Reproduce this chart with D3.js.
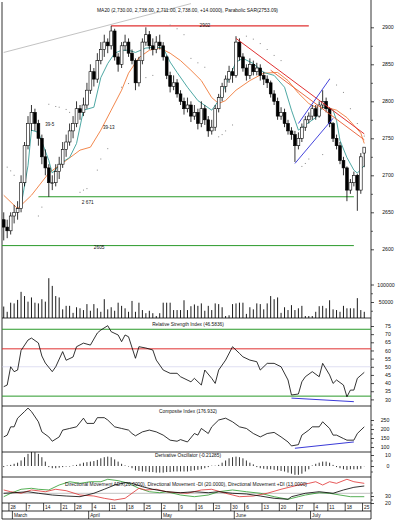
<!DOCTYPE html>
<html><head><meta charset="utf-8">
<script src="https://cdn.jsdelivr.net/npm/d3@7/dist/d3.min.js"></script>
<style>
html,body{margin:0;padding:0;background:#fff;}
svg{display:block;}
text{font-family:"Liberation Sans",Arial,sans-serif;fill:#111;}
</style></head><body>
<svg id="chart" width="400" height="523"></svg>
<script>
// ---------------- DATA ----------------
const dates = ["2005-02-24","2005-02-25","2005-02-28",
"2005-03-01","2005-03-02","2005-03-03","2005-03-04","2005-03-07","2005-03-08","2005-03-09","2005-03-10","2005-03-11","2005-03-14","2005-03-15","2005-03-16","2005-03-17","2005-03-18","2005-03-21","2005-03-22","2005-03-23","2005-03-24","2005-03-28","2005-03-29","2005-03-30","2005-03-31",
"2005-04-01","2005-04-04","2005-04-05","2005-04-06","2005-04-07","2005-04-08","2005-04-11","2005-04-12","2005-04-13","2005-04-14","2005-04-15","2005-04-18","2005-04-19","2005-04-20","2005-04-21","2005-04-22","2005-04-25","2005-04-26","2005-04-27","2005-04-28","2005-04-29",
"2005-05-02","2005-05-03","2005-05-04","2005-05-05","2005-05-06","2005-05-09","2005-05-10","2005-05-11","2005-05-12","2005-05-13","2005-05-16","2005-05-17","2005-05-18","2005-05-19","2005-05-20","2005-05-23","2005-05-24","2005-05-25","2005-05-26","2005-05-27","2005-05-31",
"2005-06-01","2005-06-02","2005-06-03","2005-06-06","2005-06-07","2005-06-08","2005-06-09","2005-06-10","2005-06-13","2005-06-14","2005-06-15","2005-06-16","2005-06-17","2005-06-20","2005-06-21","2005-06-22","2005-06-23","2005-06-24","2005-06-27","2005-06-28","2005-06-29","2005-06-30",
"2005-07-01","2005-07-05","2005-07-06","2005-07-07","2005-07-08","2005-07-11","2005-07-12","2005-07-13","2005-07-14","2005-07-15","2005-07-18","2005-07-19","2005-07-20","2005-07-21","2005-07-22","2005-07-25"];

const open  = [2640,2630,2625,2645,2650,2655,2690,2740,2770,2785,2770,2750,2725,2710,2690,2690,2705,2715,2735,2745,2760,2770,2790,2785,2795,2815,2840,2830,2855,2870,2880,2875,2895,2860,2850,2875,2880,2865,2855,2825,2855,2880,2890,2875,2870,2880,2875,2860,2835,2820,2825,2810,2800,2790,2795,2780,2785,2770,2790,2775,2760,2765,2790,2805,2820,2830,2840,2835,2880,2860,2845,2835,2850,2840,2845,2835,2830,2825,2810,2800,2780,2785,2770,2760,2755,2740,2750,2765,2775,2780,2790,2780,2795,2800,2790,2770,2750,2740,2720,2710,2680,2690,2700,2680,2730];
const high  = [2650,2640,2650,2660,2665,2700,2745,2780,2795,2790,2775,2755,2735,2715,2700,2715,2725,2745,2755,2770,2780,2800,2795,2805,2825,2850,2845,2865,2880,2890,2885,2902,2898,2865,2880,2890,2885,2870,2858,2860,2885,2900,2895,2885,2888,2890,2880,2862,2840,2835,2830,2815,2805,2805,2800,2795,2790,2800,2795,2780,2775,2795,2810,2825,2835,2848,2845,2888,2885,2865,2850,2858,2855,2852,2850,2840,2835,2828,2815,2805,2792,2790,2775,2765,2760,2758,2770,2780,2785,2795,2795,2800,2815,2805,2792,2772,2755,2745,2725,2712,2695,2705,2702,2730,2738];
const low   = [2612,2615,2620,2635,2640,2650,2685,2735,2760,2760,2740,2715,2700,2671,2680,2685,2695,2710,2725,2740,2750,2765,2775,2780,2790,2810,2820,2825,2850,2860,2865,2870,2855,2840,2845,2868,2860,2850,2815,2820,2850,2875,2870,2862,2865,2870,2855,2830,2812,2815,2805,2795,2782,2785,2772,2775,2762,2765,2768,2752,2755,2760,2785,2800,2812,2825,2825,2832,2855,2840,2828,2830,2835,2835,2828,2822,2818,2805,2795,2775,2775,2765,2755,2748,2718,2735,2745,2760,2770,2775,2775,2778,2790,2785,2765,2745,2735,2715,2700,2665,2675,2685,2652,2675,2711];
const close = [2630,2625,2645,2650,2655,2690,2740,2770,2785,2770,2750,2725,2710,2690,2690,2705,2715,2735,2745,2760,2770,2790,2785,2795,2815,2840,2830,2855,2870,2880,2875,2895,2860,2850,2875,2880,2865,2855,2825,2855,2880,2890,2875,2870,2880,2875,2860,2835,2820,2825,2810,2800,2790,2795,2780,2785,2770,2790,2775,2760,2765,2790,2805,2820,2830,2840,2835,2880,2860,2845,2835,2850,2840,2845,2835,2830,2825,2810,2800,2780,2785,2770,2760,2755,2740,2750,2765,2775,2780,2790,2780,2795,2800,2790,2770,2750,2740,2720,2710,2680,2690,2700,2680,2725,2738];
const volume = [37000,22000,48000,46000,56000,79000,67000,51000,63000,48000,46000,58000,51000,118000,96000,67000,63000,29000,39000,39000,19000,35000,32000,27000,44000,25000,44000,32000,22000,58000,29000,35000,25000,48000,39000,32000,22000,53000,22000,48000,27000,18000,25000,18000,10000,18000,48000,48000,48000,27000,27000,27000,55000,27000,38000,43000,39000,46000,25000,39000,27000,46000,44000,35000,10000,12000,44000,46000,48000,48000,16000,35000,29000,46000,44000,29000,46000,67000,58000,63000,19000,35000,27000,41000,27000,32000,39000,10000,10000,10000,22000,38000,39000,32000,55000,29000,27000,22000,39000,32000,32000,32000,61000,27000,22000];

// moving averages: day index / value
const maFastDay = [5,7,8,10,13,14,17,19,21,23,26,28,30,32,34,36,38,41,44,46,48,50,53,56,60,62,65,67,69,72,75,78,81,83,85,87,90,92,95,96,97,99,101,102,104];
const maFastVal = [2659,2713,2761,2758,2720,2703,2718,2724,2743,2788,2792,2832,2851,2865,2869,2869,2866,2872,2873,2872,2853,2839,2819,2801,2788,2801,2832,2853,2858,2851,2839,2835,2819,2788,2761,2768,2778,2792,2788,2774,2747,2724,2707,2703,2713];
const maSlowDay = [0,4,8,13,18,22,25,28,31,34,36,39,42,45,48,51,54,57,60,62,64,67,71,75,79,82,85,88,90,93,96,99,103,104];
const maSlowVal = [2673,2655,2673,2703,2720,2734,2738,2761,2788,2815,2838,2859,2869,2872,2865,2855,2842,2828,2805,2797,2801,2815,2828,2838,2839,2828,2811,2797,2792,2792,2788,2778,2757,2743];
// parabolic SAR dots
const sarDay = [1,2,3,10,11,13,15,16,18,19,22,23,24,27,28,30,34,36,41,43,48,50,52,54,56,58,62,63,64,66,70,72,74,76,78,80,86,87,88,92,94,96,98,100,102,104];
const sarVal = [2711,2706,2700,2645,2657,2796,2793,2792,2789,2785,2677,2680,2682,2707,2722,2736,2819,2824,2832,2835,2903,2898,2890,2858,2852,2846,2752,2755,2760,2768,2888,2884,2878,2870,2862,2855,2712,2716,2722,2728,2830,2822,2812,2790,2770,2753];

// indicator panels
const rsiDay = [0,1,2,3,4,5,7,8,10,11,12,14,15,17,18,20,21,23,25,27,28,30,31,33,34,35,36,38,39,41,43,44,46,48,50,51,54,55,57,58,60,61,62,64,66,68,69,71,73,74,76,78,80,82,83,85,86,87,89,91,92,94,95,96,98,99,100,101,102,104];
const rsiVal = [37.8,38.8,50,47,48,60,66.4,67.6,64.6,56.6,52.3,47,50,59.3,54,56,62.3,64.5,63.3,70.7,72.5,75.2,71.5,69.5,65.4,69.5,68.4,55.2,62.3,61.5,60.3,54.1,48,46,46,43.9,40.8,42.9,38.8,48,42.9,39.8,48,54.1,62.3,58.2,56.1,54.1,53.1,48,52.1,52.1,50,41.9,32.7,33.3,40.8,43.9,47,43.9,52.1,45,39.8,41.9,38.8,31.6,35.7,35.7,42.9,46.6];
const ciDay = [0,1,2,3,4,6,7,8,10,11,13,14,16,17,19,21,23,24,26,27,29,30,32,34,36,37,38,40,42,44,46,48,50,51,53,55,56,57,59,60,62,64,66,68,70,72,74,76,78,80,82,83,85,86,88,89,91,92,94,95,96,98,99,101,102,104];
const ciVal = [156,166,212,212,260,297,316,297,240,184,156,132,156,194,203,212,260,231,231,263,263,250,212,203,194,175,162,184,194,184,166,138,132,141,128,175,166,203,175,212,250,260,240,212,203,175,156,175,181,156,128,106,113,166,194,212,212,240,203,166,166,147,138,138,175,212];
const doVal = [-1,0.5,1,2,3,5,8,11,13,12.5,11,8,4,-1,-2,-2,-1.5,-1,-0.5,-0.5,0.5,1,2,3,3.5,4,4.5,5.5,7,8,8.5,8,6,4,2,0.5,-0.5,-2,-4,-4.5,-5,-5,-5.5,-5.5,-6,-6,-6,-5.5,-5.5,-5,-5,-5,-5,-5,-4.5,-4,-3.5,-3,-2,-1,0.3,0.3,1,3,5,7,8,8.5,8,7,5,3,1.5,-1,-2,-2.5,-3,-3,-3.5,-4,-4.5,-5,-6,-7,-8,-8,-7,-5,-3,0.5,2,3,4,4,3,1,-1,-2,-3,-3.5,-3,-3,-3,-2.5,-0.2];
const adxDay = [0,3,7,10,14,18,22,26,29,32,35,37,40,43,47,51,55,59,62,66,70,74,78,82,83,87,91,95,98,101,104];
const adxVal = [33.9,34.7,36.1,33.9,31.4,30,29,33.9,39.6,45.7,49,48.1,43.3,39.6,36.1,34.7,36.1,34.7,36.1,33.9,32.9,30,26.7,25.3,29,33.9,36.1,33.9,38.6,42.4,44.3];
const mdiDay = [0,2,5,8,12,15,18,22,26,29,32,35,37,39,41,44,47,50,53,57,60,64,68,72,76,80,83,85,88,90,92,94,96,99,101,104];
const mdiVal = [38.6,36.1,33.9,38.6,36.1,39.6,37.6,31.4,30,26.7,24.3,26.7,33.9,41,38.6,39.6,36.1,34.7,33.9,38.6,39.6,33.9,29,30,33.9,39.6,43.3,45.7,48.1,50.4,45.7,50.4,48.1,53.9,50.4,48.1];
const pdiDay = [0,2,5,8,10,13,16,19,22,25,28,30,33,36,37,39,42,45,47,51,55,59,62,66,70,74,78,82,85,87,91,94,97,100,104];
const pdiVal = [29,33.9,39.6,41,39.6,38.6,45.7,50.4,48.1,50.4,50.4,53.9,51.9,48.1,45.7,41,36.1,34.7,36.1,31.4,29,31.4,36.1,38.6,36.1,33.9,29,25.3,29,31.4,34.7,33.9,31.4,29,29];

// tick labels
const priceTicks = [2600,2650,2700,2750,2800,2850,2900];
const volTicks = [50000,100000];
const rsiTicks = [30,35,40,45,50,55,60,65,70,75];
const ciTicks = [100,150,200,250];
const doTicks = [0,10];
const dmiTicks = [20,30];
const weekTickDates = ["2005-02-28","2005-03-07","2005-03-14","2005-03-21","2005-03-28","2005-04-04","2005-04-11","2005-04-18","2005-04-25","2005-05-02","2005-05-09","2005-05-16","2005-05-23","2005-05-31","2005-06-06","2005-06-13","2005-06-20","2005-06-27","2005-07-05","2005-07-11","2005-07-18","2005-07-25"];
const weekTickLabels = ["28","7","14","21","28","4","11","18","25","2","9","16","23","30","6","13","20","27","4","11","18","25"];
const monthTickDates = ["2005-03-01","2005-04-01","2005-05-02","2005-06-01","2005-07-01"];
const monthTickLabels = ["March","April","May","June","July"];

// annotations: [dayIndex, value]
const greyTrend = [[0,2866],[54,2932]];
const redTop = [[31,2902],[88,2902]];
const redDown1 = [[67,2885],[104,2756]];
const redDown2 = [[77,2842],[104,2748]];
const blueLow = [[84,2716],[95,2777]];
const blueHigh = [[85,2770],[94,2830]];
const support1 = [[10,2671],[101,2671]];
const support2 = [[-0.5,2605],[101,2605]];
const rsiDiv = [[83,30.8],[101,28.6]];
const ciDiv = [[84,93],[101,128]];
const rsiLevels = [73,61,32];
const rsiMid = 50;

const titleMain = "MA20 (2,730.00, 2,738.00, 2,711.00, 2,738.00, +14.0000), Parabolic SAR(2753.09)";
const titleRsi = "Relative Strength Index (46.5836)";
const titleCi = "Composite Index (176.932)";
const titleDo = "Derivative Oscillator (-0.21285)";
const titleDmi = "Directional Movement ADX(20.0000), Directional Movement -DI (20.0000), Directional Movement +DI (13.0000)";

// ---------------- DRAW ----------------
const svg = d3.select("#chart");
const L = 2, R = 371, PR = 366;
const n = dates.length;
const x = d3.scaleBand().domain(dates).range([L, PR]);
const step = x.step();
const cx = d => x(d) + step / 2;
const xi = i => L + (i + 0.5) * step;

const panels = {
  price: [2, 318], rsi: [318, 406], ci: [406, 452], dosc: [452, 477], dmi: [477, 503]
};
const yP = d3.scaleLinear().domain([2600, 2900]).range([249.3, 27.3]);
const yV = d3.scaleLinear().domain([0, 100000]).range([319.5, 284.5]);
const yR = d3.scaleLinear().domain([30, 75]).range([399.4, 326]);
const yC = d3.scaleLinear().domain([100, 250]).range([447, 420]);
const yD = d3.scaleLinear().domain([0, 10]).range([466, 455]);
const yM = d3.scaleLinear().domain([20, 30]).range([503, 496]);

const defs = svg.append("defs");
Object.entries(panels).forEach(([k, [t, b]]) => {
  defs.append("clipPath").attr("id", "clip-" + k).append("rect")
    .attr("x", L).attr("y", t).attr("width", R - L).attr("height", b - t);
});
const layer = k => svg.append("g").attr("clip-path", `url(#clip-${k})`);

// frame
const frame = svg.append("g").attr("stroke", "#000").attr("stroke-width", 0.8).attr("fill", "none");
frame.append("line").attr("x1", L).attr("x2", L).attr("y1", 2).attr("y2", 519);
frame.append("line").attr("x1", R).attr("x2", R).attr("y1", 0).attr("y2", 519);
[318, 406, 452, 477, 503, 511, 519].forEach(yy =>
  frame.append("line").attr("x1", L).attr("x2", R).attr("y1", yy).attr("y2", yy));

// ---- price panel
const gp = layer("price");
const segLine = (g, pts, sx, sy, col, w) => g.append("line")
  .attr("x1", sx(pts[0][0])).attr("y1", sy(pts[0][1]))
  .attr("x2", sx(pts[1][0])).attr("y2", sy(pts[1][1]))
  .attr("stroke", col).attr("stroke-width", w);

segLine(gp, greyTrend, xi, yP, "#a8a8a8", 0.7);
segLine(gp, support1, xi, yP, "#2a9a2a", 1);
segLine(gp, support2, xi, yP, "#2a9a2a", 1);
segLine(gp, redTop, xi, yP, "#e03030", 1.2);

// volume
gp.append("g").selectAll("line").data(dates).join("line")
  .attr("x1", d => cx(d)).attr("x2", d => cx(d))
  .attr("y1", yV(0)).attr("y2", (d, i) => yV(volume[i]))
  .attr("stroke", "#000").attr("stroke-width", 0.9);

// SAR
gp.append("g").selectAll("rect").data(sarDay).join("rect")
  .attr("x", (d) => xi(d) - 0.5).attr("y", (d, i) => yP(sarVal[i]) - 0.5)
  .attr("width", 1).attr("height", 1).attr("fill", "#8a8a8a");

// moving averages
const lineGen = (sy) => d3.line().x(d => xi(d[0])).y(d => sy(d[1]));
gp.append("path").datum(maSlowDay.map((d, i) => [d, maSlowVal[i]]))
  .attr("d", lineGen(yP)).attr("fill", "none").attr("stroke", "#f07a3a").attr("stroke-width", 0.9);
gp.append("path").datum(maFastDay.map((d, i) => [d, maFastVal[i]]))
  .attr("d", lineGen(yP)).attr("fill", "none").attr("stroke", "#3a9e9a").attr("stroke-width", 0.9);

// candles
const cg = gp.append("g");
cg.selectAll("line").data(dates).join("line")
  .attr("x1", d => cx(d)).attr("x2", d => cx(d))
  .attr("y1", (d, i) => yP(high[i])).attr("y2", (d, i) => yP(low[i]))
  .attr("stroke", "#000").attr("stroke-width", 0.8);
const bw = 2.8;
cg.selectAll("rect").data(dates).join("rect")
  .attr("x", d => cx(d) - bw / 2).attr("width", bw)
  .attr("y", (d, i) => yP(Math.max(open[i], close[i])))
  .attr("height", (d, i) => Math.max(0.7, Math.abs(yP(open[i]) - yP(close[i]))))
  .attr("fill", (d, i) => close[i] >= open[i] ? "#fff" : "#000")
  .attr("stroke", "#000").attr("stroke-width", 0.6);

// trend lines on top
segLine(gp, redDown1, xi, yP, "#e03030", 1);
segLine(gp, redDown2, xi, yP, "#e85a30", 0.9);
segLine(gp, blueLow, xi, yP, "#3030d8", 0.9);
segLine(gp, blueHigh, xi, yP, "#3030d8", 0.9);

// texts
const txt = (t, xx, yy, size, col, anchor) => svg.append("text").attr("x", xx).attr("y", yy)
  .attr("font-size", size).attr("fill", col || "#111").attr("text-anchor", anchor || "start").text(t);
txt(titleMain, 97, 12, 4.6).attr("textLength", 181).attr("lengthAdjust", "spacingAndGlyphs");
txt("2902", xi(56.5), yP(2900), 4.8, "#e03030");
txt("2 671", xi(22.5), yP(2661), 4.8, "#2a9a2a");
txt("2605", xi(26), yP(2600), 4.8, "#2a9a2a");
txt("39-5", xi(12), yP(2766), 4.5, "#3a9e9a");
txt("39-13", xi(28.6), yP(2762), 4.5, "#f07a3a");

// ---- RSI
const gr = layer("rsi");
rsiLevels.forEach((v, k) => gr.append("line").attr("x1", L).attr("x2", R).attr("y1", yR(v)).attr("y2", yR(v))
  .attr("stroke", k === 1 ? "#e03030" : "#2a9a2a").attr("stroke-width", 1));
gr.append("line").attr("x1", L).attr("x2", R).attr("y1", yR(rsiMid)).attr("y2", yR(rsiMid))
  .attr("stroke", "#c8c8e8").attr("stroke-width", 0.6);
gr.append("path").datum(rsiDay.map((d, i) => [d, rsiVal[i]]))
  .attr("d", lineGen(yR)).attr("fill", "none").attr("stroke", "#000").attr("stroke-width", 0.8);
segLine(gr, rsiDiv, xi, yR, "#3a3ad8", 1);
txt(titleRsi, 188, 326, 4.8, "#111", "middle");

// ---- CI
const gc = layer("ci");
gc.append("path").datum(ciDay.map((d, i) => [d, ciVal[i]]))
  .attr("d", lineGen(yC)).attr("fill", "none").attr("stroke", "#000").attr("stroke-width", 0.8);
segLine(gc, ciDiv, xi, yC, "#3a3ad8", 1);
txt(titleCi, 188, 412.5, 4.8, "#111", "middle");

// ---- Derivative oscillator
const gd = layer("dosc");
gd.append("g").selectAll("line").data(dates).join("line")
  .attr("x1", d => cx(d)).attr("x2", d => cx(d))
  .attr("y1", yD(0)).attr("y2", (d, i) => yD(doVal[i]) + (doVal[i] >= 0 ? -0.001 : 0.001))
  .attr("stroke", "#000").attr("stroke-width", 0.8);
txt(titleDo, 188, 457, 4.8, "#111", "middle");

// ---- DMI
const gm = layer("dmi");
gm.append("line").attr("x1", L).attr("x2", R).attr("y1", 493.3).attr("y2", 493.3)
  .attr("stroke", "#999").attr("stroke-width", 0.6);
gm.append("path").datum(pdiDay.map((d, i) => [d, pdiVal[i]]))
  .attr("d", lineGen(yM)).attr("fill", "none").attr("stroke", "#2a9a2a").attr("stroke-width", 0.8);
gm.append("path").datum(mdiDay.map((d, i) => [d, mdiVal[i]]))
  .attr("d", lineGen(yM)).attr("fill", "none").attr("stroke", "#e03030").attr("stroke-width", 0.8);
gm.append("path").datum(adxDay.map((d, i) => [d, adxVal[i]]))
  .attr("d", lineGen(yM)).attr("fill", "none").attr("stroke", "#000").attr("stroke-width", 0.8);
txt(titleDmi, 65, 486, 4.6).attr("textLength", 242).attr("lengthAdjust", "spacingAndGlyphs");

// ---- right axes
function rightAxis(scale, ticks, fmt, lx, minor) {
  const g = svg.append("g").attr("transform", `translate(${R},0)`);
  g.call(d3.axisRight(scale).tickValues(ticks).tickSize(3).tickFormat(fmt));
  g.select(".domain").remove();
  g.selectAll(".tick line").attr("stroke", "#000").attr("stroke-width", 0.7);
  g.selectAll(".tick text").attr("x", lx).attr("text-anchor", "middle").attr("font-size", 5.2)
    .attr("font-family", "Liberation Sans, Arial, sans-serif").attr("fill", "#111");
  if (minor) {
    const m = svg.append("g").attr("transform", `translate(${R},0)`);
    m.call(d3.axisRight(scale).tickValues(minor).tickSize(2).tickFormat(""));
    m.select(".domain").remove();
    m.selectAll(".tick line").attr("stroke", "#000").attr("stroke-width", 0.6);
  }
}
rightAxis(yP, priceTicks, d3.format("d"), 17, [2625, 2675, 2725, 2775, 2825, 2875]);
rightAxis(yV, volTicks, d3.format("d"), 15, [25000, 75000]);
rightAxis(yR, rsiTicks, d3.format("d"), 17);
rightAxis(yC, ciTicks, d3.format("d"), 14, [125, 175, 225]);
rightAxis(yD, doTicks, d3.format("d"), 17, [5, -5]);
rightAxis(yM, dmiTicks, d3.format("d"), 17, [25, 35]);

// ---- date rows
const dg = svg.append("g");
weekTickDates.forEach((d, k) => {
  const xx = x(d);
  dg.append("line").attr("x1", xx).attr("x2", xx).attr("y1", 503).attr("y2", 511).attr("stroke", "#000").attr("stroke-width", 0.7);
  dg.append("text").attr("x", xx + 1.5).attr("y", 509.3).attr("font-size", 4.8).text(weekTickLabels[k]);
});
monthTickDates.forEach((d, k) => {
  const xx = x(d);
  dg.append("line").attr("x1", xx).attr("x2", xx).attr("y1", 511).attr("y2", 519).attr("stroke", "#000").attr("stroke-width", 0.7);
  dg.append("text").attr("x", xx + 1.5).attr("y", 517.3).attr("font-size", 4.8).text(monthTickLabels[k]);
});
</script>
</body></html>
